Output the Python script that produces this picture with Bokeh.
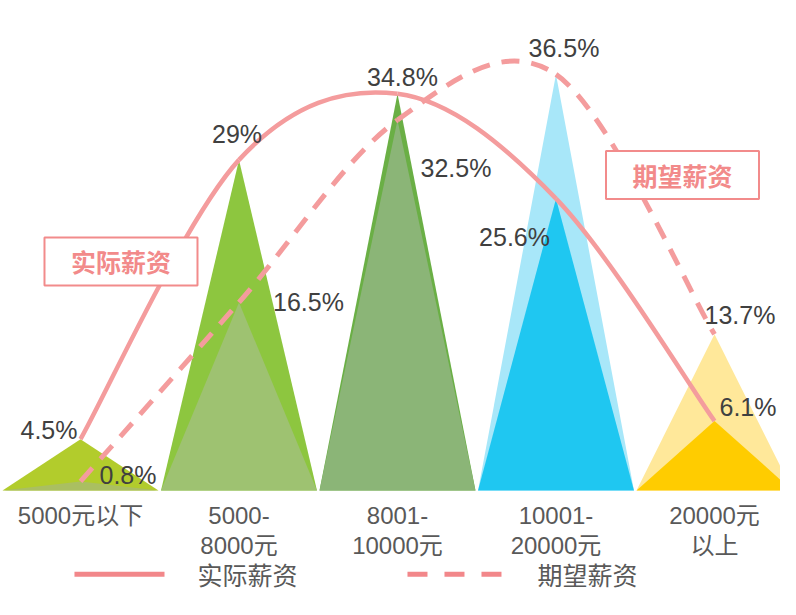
import numpy as np
from bokeh.plotting import figure
from bokeh.models import Range1d
from bokeh.core.properties import value
from bokeh.embed import file_html
from bokeh.resources import INLINE

# ---------------- data ----------------
categories = ["5000元以下", "5000-\n8000元", "8001-\n10000元", "10001-\n20000元", "20000元\n以上"]
actual = [4.5, 29.0, 34.8, 25.6, 6.1]      # 实际薪资
expected = [0.8, 16.5, 32.5, 36.5, 13.7]   # 期望薪资
series_names = ["实际薪资", "期望薪资"]

# ---------------- styles ----------------
back_colors = ["#B2CC2C", "#8DC63F", "#6AAF45", "#A8E7F9", "#FFE89A"]
front_colors = ["#AABF61", "#9EC271", "#8BB577", "#1FC7F1", "#FFCC00"]
LINE_COLOR = "#F49C9D"
LEG_COLOR = "#F2878A"
FONT = value("Liberation Sans, Noto Sans CJK SC, sans-serif")
CJK = value("Noto Sans CJK SC")

# label style: (align, x_offset px, y_offset px)
actual_lbl = [("right", -3, -9), ("center", -2, -26), ("center", 5, -17), ("right", -6, 38), ("left", 5, -14)]
expected_lbl = [("left", 19, -6), ("left", 34, 0), ("left", 23, 48), ("center", 8, -26), ("left", -10, -19)]

idx = list(range(len(categories)))
HALF = 0.492

p = figure(width=780, height=599, x_range=Range1d(-0.5047, 4.4164), y_range=Range1d(-9.56, 42.98),
           output_backend="svg", toolbar_location=None, min_border=0,
           x_axis_location=None, y_axis_location=None)
p.grid.visible = False
p.outline_line_color = None
p.background_fill_color = "white"

# triangles: larger value behind, smaller value in front
backs = [max(a, e) for a, e in zip(actual, expected)]
fronts = [min(a, e) for a, e in zip(actual, expected)]
p.patches(xs=[[i - HALF, i, i + HALF] for i in idx], ys=[[0, v, 0] for v in backs],
          fill_color=back_colors, line_color=None)
p.patches(xs=[[i - HALF, i, i + HALF] for i in idx], ys=[[0, v, 0] for v in fronts],
          fill_color=front_colors, line_color=None)


def catmull_rom(xs, ys):
    P = np.column_stack([xs, ys]).astype(float)
    ext = np.vstack([P[0], P, P[-1]])
    out = {k: [] for k in ["x0", "y0", "x1", "y1", "cx0", "cy0", "cx1", "cy1"]}
    for k in range(len(P) - 1):
        p0, p1, p2, p3 = ext[k], ext[k + 1], ext[k + 2], ext[k + 3]
        c1 = p1 + (p2 - p0) / 6.0
        c2 = p2 - (p3 - p1) / 6.0
        out["x0"].append(p1[0]); out["y0"].append(p1[1])
        out["x1"].append(p2[0]); out["y1"].append(p2[1])
        out["cx0"].append(c1[0]); out["cy0"].append(c1[1])
        out["cx1"].append(c2[0]); out["cy1"].append(c2[1])
    return out


sa = catmull_rom(idx, actual)
p.bezier(line_color=LINE_COLOR, line_width=4.5, **sa)
se = catmull_rom(idx, expected)
p.bezier(line_color=LINE_COLOR, line_width=5, line_dash="18 12", **se)

# value labels
for vals, styles in ((actual, actual_lbl), (expected, expected_lbl)):
    for i, (v, (al, dx, dy)) in enumerate(zip(vals, styles)):
        txt = f"{v:g}%"
        p.text(x=[i], y=[v], text=[txt], text_align=al, text_baseline="middle",
               x_offset=dx, y_offset=dy, text_font=FONT, text_font_size="25px", text_color="#404040")

# callout boxes
boxes = [(0.2555, 20.09, series_names[0]), (3.798, 27.68, series_names[1])]
for bx, by, name in boxes:
    p.rect(x=[bx], y=[by], width=153, height=48, width_units="screen", height_units="screen",
           fill_color="white", line_color="#F28B8B", line_width=2)
    p.text(x=[bx], y=[by], text=[name], text_align="center", text_baseline="middle",
           text_font=CJK, text_font_size="25px", text_font_style="bold", text_color="#F28A8A")

# category labels
p.text(x=idx, y=[-1.05] * len(idx), text=categories, text_align="center", text_baseline="top",
       text_font=FONT, text_font_size="24px", text_color="#595959", text_line_height=1.08)

# legend
ly = -7.35
p.segment(x0=[-0.038], y0=[ly], x1=[0.53], y1=[ly], line_color=LEG_COLOR, line_width=5)
p.segment(x0=[2.063], y0=[ly], x1=[2.694], y1=[ly], line_color=LEG_COLOR, line_width=5, line_dash="20 17")
p.text(x=[0.738, 2.883], y=[ly, ly], text=series_names, text_align="left", text_baseline="middle",
       text_font=CJK, text_font_size="25px", text_color="#595959")

open("out.html", "w").write(file_html(p, INLINE))
